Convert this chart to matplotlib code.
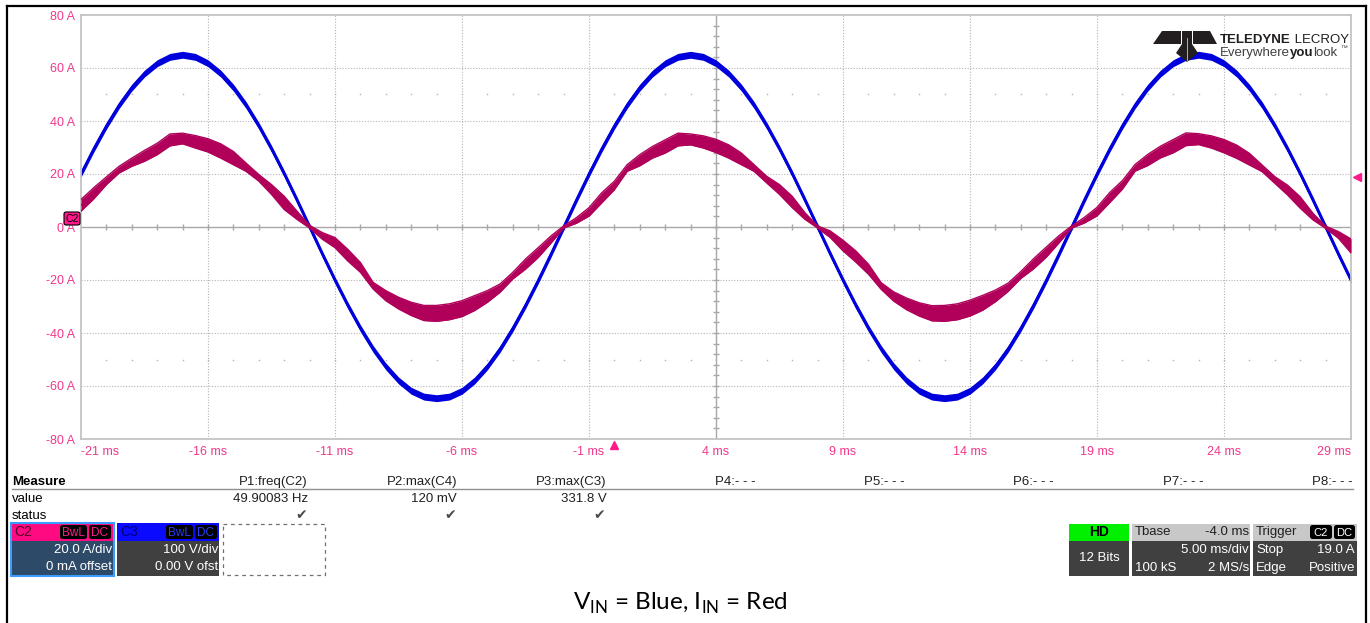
import numpy as np
import matplotlib.pyplot as plt
from matplotlib.patches import Rectangle, FancyBboxPatch, Polygon

plt.rcParams['font.family'] = ['Liberation Sans', 'DejaVu Sans']
plt.rcParams['mathtext.fontset'] = 'custom'
plt.rcParams['mathtext.rm'] = 'Lato'

W, H = 1370, 623

# sample times (ms), one every 0.5 ms across the screen
time_ms = np.arange(-21.0, 29.01, 0.5)

# C3 (input voltage, drawn on the 20 A/div grid), band centre
blue = [20.1, 29.5, 38.2, 46.0, 52.6, 57.9, 61.8, 64.2, 65.0,
        64.2, 61.8, 57.9, 52.6, 46.0, 38.2, 29.5, 20.1, 10.2, 0.0,
        -10.2, -20.1, -29.5, -38.2, -46.0, -52.6, -57.9, -61.8, -64.0, -64.6,
        -64.0, -61.8, -57.9, -52.6, -46.0, -38.2, -29.5, -20.1, -10.2, 0.0,
        10.2, 20.1, 29.5, 38.2, 46.0, 52.6, 57.9, 61.8, 64.2, 65.0,
        64.2, 61.8, 57.9, 52.6, 46.0, 38.2, 29.5, 20.1, 10.2, 0.0,
        -10.2, -20.1, -29.5, -38.2, -46.0, -52.6, -57.9, -61.8, -64.0, -64.6,
        -64.0, -61.8, -57.9, -52.6, -46.0, -38.2, -29.5, -20.1, -10.2, 0.0,
        10.2, 20.1, 29.5, 38.2, 46.0, 52.6, 57.9, 61.8, 64.2, 65.0,
        64.2, 61.8, 57.9, 52.6, 46.0, 38.2, 29.5, 20.1, 10.2, 0.0,
        -10.2, -20.1]

# C2 (input current), upper and lower edge of the noisy band
red_hi = [10.4, 14.8, 18.9, 22.9, 26.0, 28.9, 31.6, 35.1, 35.4, 34.5,
          33.3, 31.4, 28.5, 24.1, 19.8, 16.0, 11.6, 6.0, 0.6, -2.1,
          -4.0, -8.4, -13.4, -20.9, -24.0, -26.5, -28.4, -29.6, -29.6, -29.0,
          -27.8, -25.9, -24.0, -21.5, -17.1, -12.1, -7.8, -3.4, 0.4, 3.5,
          7.3, 12.9, 17.3, 23.5, 27.3, 30.4, 32.9, 35.4, 35.1, 34.4,
          33.1, 31.0, 27.9, 23.5, 19.1, 16.0, 11.6, 5.4, 0.4, -1.5,
          -5.0, -9.0, -14.0, -21.0, -24.5, -26.8, -28.6, -29.7, -29.6, -29.0,
          -27.6, -25.8, -23.8, -21.2, -16.8, -12.0, -7.6, -3.3, 0.4, 3.6,
          7.4, 13.0, 17.5, 23.6, 27.4, 30.5, 33.0, 35.5, 35.2, 34.4,
          33.0, 30.9, 27.8, 23.4, 19.0, 15.8, 11.4, 5.2, 0.3, -1.7,
          -4.5]
red_lo = [6.0, 10.6, 16.0, 20.4, 22.9, 24.8, 27.3, 30.6, 31.4, 29.8,
          28.3, 26.0, 23.5, 21.0, 17.3, 12.3, 6.6, 2.9, -0.4, -4.6,
          -7.8, -12.8, -17.1, -23.4, -27.8, -30.9, -33.4, -35.3, -35.6, -35.0,
          -33.8, -31.5, -28.4, -24.6, -19.6, -15.9, -11.5, -6.1, -0.4, 1.4,
          4.1, 9.1, 14.1, 21.0, 23.1, 26.0, 27.9, 30.6, 31.0, 29.8,
          28.1, 26.0, 23.5, 21.0, 16.6, 12.3, 7.3, 2.9, -0.4, -4.0,
          -9.0, -13.2, -17.8, -23.5, -28.0, -31.2, -33.6, -35.4, -35.6, -35.0,
          -33.6, -31.4, -28.2, -24.3, -19.4, -15.8, -11.4, -6.0, -0.4, 1.5,
          4.2, 9.2, 14.3, 21.1, 23.2, 26.1, 28.0, 30.7, 31.1, 29.8,
          28.0, 25.9, 23.4, 20.9, 16.5, 12.1, 7.1, 2.7, -0.5, -4.2,
          -9.8]

x_ticks = [-21, -16, -11, -6, -1, 4, 9, 14, 19, 24, 29]
y_ticks = [-80, -60, -40, -20, 0, 20, 40, 60, 80]

measure_names = ['P1:freq(C2)', 'P2:max(C4)', 'P3:max(C3)', 'P4:- - -',
                 'P5:- - -', 'P6:- - -', 'P7:- - -', 'P8:- - -']
measure_values = ['49.90083 Hz', '120 mV', '331.8 V', '', '', '', '', '']
measure_ok = [True, True, True, False, False, False, False, False]

PINK = '#f0388c'
GRID = '#b4b4b4'
RED = '#b0005a'
BLUE = '#0000dc'

fig = plt.figure(figsize=(W / 100, H / 100), dpi=100)
ax = fig.add_axes([81 / W, 1 - 439 / H, 1270 / W, 424 / H])
ax.set_xlim(-21, 29)
ax.set_ylim(-80, 80)

# graticule
for x in x_ticks[1:-1]:
    if x != 4:
        ax.axvline(x, color=GRID, lw=0.8, ls=(0, (1, 1.5)), zorder=0)
for y in y_ticks[1:-1]:
    if y != 0:
        ax.axhline(y, color=GRID, lw=0.8, ls=(0, (1, 1.5)), zorder=0)
ax.axvline(4, color='#a8a8a8', lw=1.0, zorder=0)
ax.axhline(0, color='#a8a8a8', lw=1.0, zorder=0)
minor_x = np.arange(-20, 29, 1)
ax.plot(minor_x, np.zeros(len(minor_x)), '|', color='#a8a8a8', ms=4, mew=1, zorder=0)
minor_y = np.arange(-76, 80, 4)
ax.plot(np.full(len(minor_y), 4), minor_y, '_', color='#a8a8a8', ms=4, mew=1, zorder=0)
for y in (50, -50):
    ax.plot(minor_x, np.full(len(minor_x), y), 's', color=GRID, ms=1.0, mew=0, zorder=0)

for s in ax.spines.values():
    s.set_color('#c4c4c4')
    s.set_linewidth(1.3)

ax.set_xticks(x_ticks)
ax.set_xticklabels([f'{v} ms' for v in x_ticks], color=PINK, fontsize=9)
labels = ax.get_xticklabels()
labels[0].set_ha('left')
labels[-1].set_ha('right')
ax.set_yticks(y_ticks)
ax.set_yticklabels([f'{v} A' for v in y_ticks], color=PINK, fontsize=9)
ax.tick_params(length=0, pad=4)
ax.tick_params(axis='x', pad=5)

# traces
blue_arr = np.array(blue)
ax.fill_between(time_ms, blue_arr - 1.3, blue_arr + 1.3, color=BLUE, lw=0, zorder=2)
ax.plot(time_ms, blue_arr, color=BLUE, lw=1.7, zorder=2)
ax.fill_between(time_ms, red_lo, red_hi, color=RED, lw=0, zorder=3)
ax.plot(time_ms, red_hi, color=RED, lw=1.0, zorder=3)
ax.plot(time_ms, red_lo, color=RED, lw=1.0, zorder=3)
ax.plot(time_ms, (np.array(red_hi) + np.array(red_lo)) / 2, color=RED, lw=1.2, zorder=3)

# trigger position and level markers
ax.plot([0], [-82.3], marker='^', color='#ff1a8c', ms=6, clip_on=False)
ax.plot([29.22], [19.0], marker='<', color='#ff1a8c', ms=6, clip_on=False)

# overlay in pixel coordinates
ov = fig.add_axes([0, 0, 1, 1], zorder=5)
ov.set_xlim(0, W)
ov.set_ylim(H, 0)
ov.axis('off')
ov.patch.set_visible(False)
renderer = fig.canvas.get_renderer()

# outer frame
ov.plot([7, 7], [6, H], color='black', lw=1.6)
ov.plot([7, 1366], [6, 6], color='black', lw=1.6)
ov.plot([1366, 1366], [6, H], color='black', lw=1.6)

# C2 badge at the zero level
ov.add_patch(FancyBboxPatch((64, 212), 16, 13, boxstyle='round,pad=0,rounding_size=2',
                            fc='#ff1a8c', ec='black', lw=0.8))
ov.text(72, 219, 'C2', fontsize=7.5, ha='center', va='center', color='black')

# logo
dark = '#231f20'
ov.add_patch(Polygon([(1162, 31), (1181, 31), (1181, 44), (1153, 44)], closed=True, fc=dark, ec='none'))
ov.add_patch(Polygon([(1193, 31), (1210, 31), (1217, 44), (1193, 44)], closed=True, fc=dark, ec='none'))
ov.add_patch(Polygon([(1182, 31), (1192, 31), (1192, 44), (1198, 53), (1187, 62),
                      (1176, 53), (1182, 44)], closed=True, fc=dark, ec='none'))
ov.plot([1187, 1187], [38, 60], color='#c8c8c8', lw=0.6)


def run_text(x, y, parts):
    # place text pieces one after another on the same baseline
    for txt, kw in parts:
        t = ov.text(x, y, txt, va='baseline', **kw)
        x += t.get_window_extent(renderer).width


run_text(1220, 43, [('TELEDYNE', dict(fontsize=9.5, fontweight='bold', color=dark)),
                    (' LECROY', dict(fontsize=9.5, color=dark))])
run_text(1220, 56, [('Everywhere', dict(fontsize=9.5, color='#404040')),
                    ('you', dict(fontsize=9.5, fontweight='bold', color='#202020')),
                    ('look', dict(fontsize=9.5, color='#404040'))])
ov.text(1340, 50, '™', fontsize=5, color='#404040', va='baseline')

# measure table
ov.text(12, 482, 'Measure', fontsize=9.5, fontweight='bold', va='center')
ov.plot([12, 1353], [489, 489], color='#909090', lw=1)
ov.text(12, 499, 'value', fontsize=9.5, va='center')
ov.text(12, 516, 'status', fontsize=9.5, va='center')
for i, name in enumerate(measure_names):
    xr = 308 + 149.2 * i
    ov.text(xr, 482, name, fontsize=9.5, ha='right', va='center', color='#202020')
    ov.text(xr, 499, measure_values[i], fontsize=9.5, ha='right', va='center', color='#202020')
    if measure_ok[i]:
        ov.text(xr - 1, 515, '✔', fontsize=10, ha='right', va='center', color='#4a4a4a',
                family=['DejaVu Sans'])


def rect(x0, y0, x1, y1, fc, ec='none', lw=0, ls='-'):
    ov.add_patch(Rectangle((x0, y0), x1 - x0, y1 - y0, fc=fc, ec=ec, lw=lw, ls=ls))


def badge(x0, y0, x1, y1, text, tc, size=8.5):
    ov.add_patch(FancyBboxPatch((x0, y0), x1 - x0, y1 - y0, boxstyle='round,pad=0,rounding_size=2.5',
                                fc='black', ec='none'))
    ov.text((x0 + x1) / 2, (y0 + y1) / 2 + 0.5, text, fontsize=size, ha='center', va='center', color=tc)


# channel descriptors
rect(11, 523, 114, 541, '#ff0a80')
rect(11, 541, 114, 576, '#2d4a68')
rect(11, 523, 114, 576, 'none', ec='#3a9cff', lw=1.5)
ov.text(14, 532, 'C2', fontsize=10, va='center', color='#50002a')
badge(60, 525, 87, 539, 'BwL', '#ff1a8c')
badge(89, 525, 111, 539, 'DC', '#ff1a8c')
ov.text(112, 550, '20.0 A/div', fontsize=9.5, ha='right', va='center', color='white')
ov.text(112, 567, '0 mA offset', fontsize=9.5, ha='right', va='center', color='white')

rect(117, 523, 219, 541, '#0a0aff')
rect(117, 541, 219, 576, '#404040')
ov.text(120, 532, 'C3', fontsize=10, va='center', color='#000070')
badge(166, 525, 193, 539, 'BwL', '#2a3cff')
badge(195, 525, 217, 539, 'DC', '#2a3cff')
ov.text(218, 550, '100 V/div', fontsize=9.5, ha='right', va='center', color='white')
ov.text(218, 567, '0.00 V ofst', fontsize=9.5, ha='right', va='center', color='white')

rect(223, 524, 325, 575, 'none', ec='#707070', lw=0.9, ls=(0, (3, 3)))

# acquisition boxes
rect(1069, 524, 1129, 541, '#00f000')
rect(1069, 541, 1129, 576, '#404040')
ov.text(1099, 532, 'HD', fontsize=10, fontweight='bold', ha='center', va='center', color='black')
ov.text(1099, 558, '12 Bits', fontsize=9.5, ha='center', va='center', color='white')

rect(1132, 524, 1250, 541, '#c8c8c8')
rect(1132, 541, 1250, 576, '#404040')
ov.text(1135, 532, 'Tbase', fontsize=9.5, va='center', color='#202020')
ov.text(1249, 532, '-4.0 ms', fontsize=9.5, ha='right', va='center', color='#202020')
ov.text(1249, 550, '5.00 ms/div', fontsize=9.5, ha='right', va='center', color='white')
ov.text(1135, 568, '100 kS', fontsize=9.5, va='center', color='white')
ov.text(1249, 568, '2 MS/s', fontsize=9.5, ha='right', va='center', color='white')

rect(1253, 524, 1357, 541, '#c8c8c8')
rect(1253, 541, 1357, 576, '#404040')
ov.text(1256, 532, 'Trigger', fontsize=9.5, va='center', color='#202020')
badge(1310, 525, 1332, 539, 'C2', 'white', size=8)
badge(1334, 525, 1355, 539, 'DC', 'white', size=8)
ov.text(1256, 550, 'Stop', fontsize=9.5, va='center', color='white')
ov.text(1355, 550, '19.0 A', fontsize=9.5, ha='right', va='center', color='white')
ov.text(1256, 568, 'Edge', fontsize=9.5, va='center', color='white')
ov.text(1355, 568, 'Positive', fontsize=9.5, ha='right', va='center', color='white')

# caption
ov.text(680, 610, r'V$_{\mathrm{IN}}$ = Blue, I$_{\mathrm{IN}}$ = Red', fontsize=17.5,
        family='Lato', ha='center', va='baseline', color='black')

fig.savefig('out.png', dpi=100)
